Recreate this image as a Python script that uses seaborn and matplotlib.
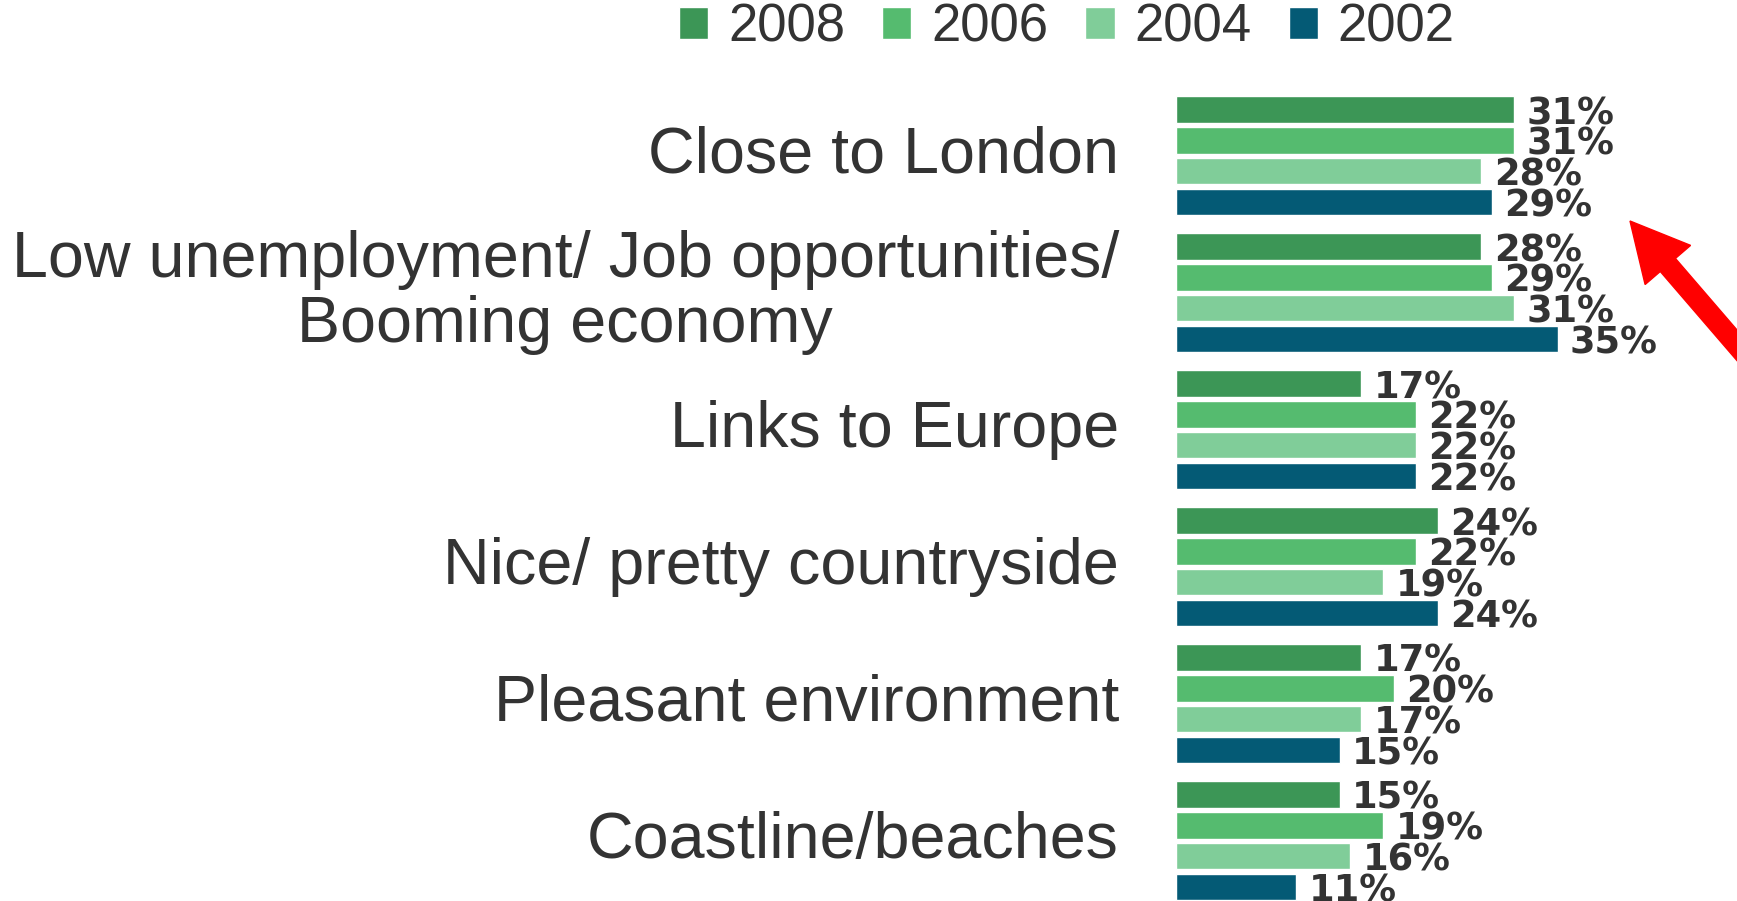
import pandas as pd
import matplotlib.pyplot as plt
import seaborn as sns
from matplotlib.patches import FancyArrow


# Chart data
categories = [
    "Close to London",
    "Low unemployment/ Job opportunities/\nBooming economy",
    "Links to Europe",
    "Nice/ pretty countryside",
    "Pleasant environment",
    "Coastline/beaches",
]
years = ["2008", "2006", "2004", "2002"]

values_2008 = [31, 28, 17, 24, 17, 15]
values_2006 = [31, 29, 22, 22, 20, 19]
values_2004 = [28, 31, 22, 19, 17, 16]
values_2002 = [29, 35, 22, 24, 15, 11]

colors = ["#3c9656", "#55bb6f", "#80cd99", "#045a75"]
text_color = "#333333"


# Long-form table for seaborn
rows = []
for year, vals in zip(years, [values_2008, values_2006, values_2004, values_2002]):
    for cat, v in zip(categories, vals):
        rows.append({"category": cat, "year": year, "value": v})
df = pd.DataFrame(rows)


sns.set_style("white")
plt.rcParams["font.family"] = ["Liberation Sans", "DejaVu Sans"]

fig = plt.figure(figsize=(17.37, 9.01), dpi=100)
ax = fig.add_axes([1176 / 1737, 0, 545 / 1737, 821 / 901])

sns.barplot(
    data=df,
    y="category",
    x="value",
    hue="year",
    hue_order=years,
    order=categories,
    palette=colors,
    orient="h",
    width=0.9,
    gap=0.14,
    saturation=1,
    ax=ax,
)

ax.set_xlim(0, 50)
ax.set_ylim(5.44, -0.553)

ax.set_xlabel("")
ax.set_ylabel("")
ax.set_xticks([])
sns.despine(ax=ax, left=True, bottom=True)
ax.tick_params(axis="y", length=0, pad=41, labelsize=46.5, labelcolor=text_color)
for lbl in ax.get_yticklabels():
    lbl.set_multialignment("center")
    lbl.set_linespacing(1.1)
    lbl.set_verticalalignment("center")

# value labels (wide bold face, like the stretched original)
for container in ax.containers:
    texts = ax.bar_label(
        container,
        fmt="{:.0f}%",
        padding=9,
        fontsize=26.5,
        fontweight="bold",
        family="DejaVu Sans",
        color=text_color,
    )
    for t in texts:
        t.set_verticalalignment("center_baseline")

# legend on top
handles, labels = ax.get_legend_handles_labels()
ax.get_legend().remove()
fig.legend(
    handles,
    labels,
    loc="center",
    bbox_to_anchor=(1067 / 1737, 1 - 28 / 901),
    ncol=4,
    frameon=False,
    fontsize=38,
    handlelength=0.55,
    handleheight=0.55,
    handletextpad=0.38,
    columnspacing=0.7,
    labelcolor=text_color,
)

# red arrow pointing at the top groups
arrow = FancyArrow(
    17.60, 5.29, -1.30, 1.51,
    width=0.20,
    head_width=0.60,
    head_length=0.58,
    length_includes_head=True,
    color="#ff0000",
    transform=fig.dpi_scale_trans,
    clip_on=False,
)
fig.patches.append(arrow)

plt.savefig("out.png", dpi=100)
